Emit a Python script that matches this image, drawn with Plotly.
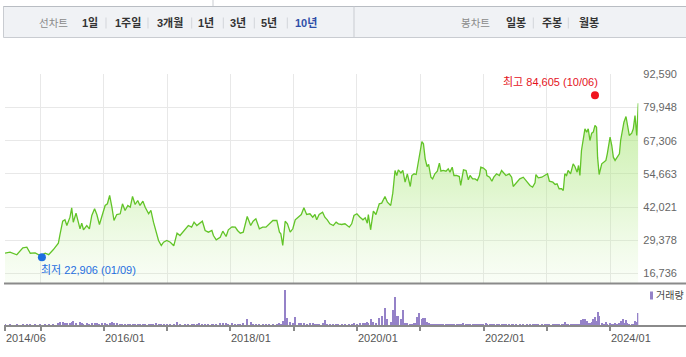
import plotly.graph_objects as go

# ---------------- data ----------------
dates = [
    "2014-06-10", "2014-07-09", "2014-08-17", "2014-09-21", "2014-10-14", "2014-11-03", "2014-12-01", "2014-12-30",
    "2015-01-28", "2015-02-17", "2015-03-15", "2015-04-14", "2015-04-23", "2015-05-09", "2015-05-22", "2015-06-02",
    "2015-06-20", "2015-06-30", "2015-07-09", "2015-07-25", "2015-08-17", "2015-08-27", "2015-09-06", "2015-09-25",
    "2015-10-10", "2015-10-24", "2015-11-09", "2015-11-22", "2015-12-07", "2015-12-21",
    "2016-01-09", "2016-01-22", "2016-02-04", "2016-02-17", "2016-02-29", "2016-03-16", "2016-04-05", "2016-04-18",
    "2016-05-03", "2016-05-19", "2016-06-02", "2016-06-15", "2016-06-30", "2016-07-15", "2016-07-28", "2016-08-14",
    "2016-08-27", "2016-09-16", "2016-09-29", "2016-10-14", "2016-10-30", "2016-11-12", "2016-11-28", "2016-12-11",
    "2016-12-30",
    "2017-01-19", "2017-02-08", "2017-02-27", "2017-03-16", "2017-04-14", "2017-05-03", "2017-05-22", "2017-06-05",
    "2017-06-21", "2017-07-06", "2017-07-23", "2017-08-08", "2017-08-27", "2017-09-16", "2017-09-25", "2017-10-11",
    "2017-11-03", "2017-11-18", "2017-12-07", "2017-12-20",
    "2018-01-10", "2018-01-29", "2018-02-11", "2018-02-27", "2018-03-16", "2018-04-08", "2018-04-28", "2018-05-12",
    "2018-05-28", "2018-06-17", "2018-07-06", "2018-07-25", "2018-08-14", "2018-09-03", "2018-09-26", "2018-10-11",
    "2018-10-19", "2018-10-30", "2018-11-13", "2018-11-26", "2018-12-12", "2018-12-27",
    "2019-01-10", "2019-01-29", "2019-02-14", "2019-03-01", "2019-03-17", "2019-04-05", "2019-04-21", "2019-05-04",
    "2019-05-14", "2019-05-28", "2019-06-17", "2019-06-30", "2019-07-14", "2019-07-29", "2019-08-18", "2019-09-03",
    "2019-09-16", "2019-10-05", "2019-10-24", "2019-11-18", "2019-12-02", "2019-12-15",
    "2020-01-01", "2020-01-19", "2020-02-05", "2020-02-18", "2020-03-01", "2020-03-07", "2020-03-20", "2020-04-05",
    "2020-04-20", "2020-05-09", "2020-05-23", "2020-06-11", "2020-06-25", "2020-07-14", "2020-07-26", "2020-08-08",
    "2020-08-18", "2020-08-27", "2020-09-11", "2020-09-22", "2020-10-05", "2020-10-18", "2020-11-04", "2020-11-13",
    "2020-11-26", "2020-12-08", "2020-12-15", "2020-12-27",
    "2021-01-10", "2021-01-19", "2021-01-29", "2021-02-09", "2021-02-18", "2021-03-03", "2021-03-13", "2021-03-26",
    "2021-04-09", "2021-04-21", "2021-04-30", "2021-05-13", "2021-05-29", "2021-06-11", "2021-06-21", "2021-07-04",
    "2021-07-14", "2021-07-29", "2021-08-14", "2021-08-22", "2021-09-07", "2021-09-22", "2021-10-05", "2021-10-15",
    "2021-10-30", "2021-11-13", "2021-11-26", "2021-12-08", "2021-12-16", "2021-12-31",
    "2022-01-16", "2022-01-20", "2022-02-05", "2022-02-18", "2022-03-01", "2022-03-17", "2022-04-02", "2022-04-15",
    "2022-04-28", "2022-05-10", "2022-05-29", "2022-06-12", "2022-06-21", "2022-07-10", "2022-07-29", "2022-08-18",
    "2022-09-07", "2022-09-26", "2022-10-11", "2022-10-25", "2022-10-30", "2022-11-13", "2022-12-03", "2022-12-21",
    "2023-01-05", "2023-01-16", "2023-02-05", "2023-02-18", "2023-03-01", "2023-03-13", "2023-03-27", "2023-04-06",
    "2023-04-15", "2023-04-25", "2023-05-04", "2023-05-18", "2023-06-02", "2023-06-12", "2023-06-25", "2023-07-03",
    "2023-07-11", "2023-07-20", "2023-07-29", "2023-08-09", "2023-08-19", "2023-08-28", "2023-09-07", "2023-09-17",
    "2023-09-26", "2023-10-06", "2023-10-15", "2023-10-21", "2023-10-30", "2023-11-14", "2023-11-27", "2023-12-08",
    "2023-12-16",
    "2024-01-01", "2024-01-11", "2024-01-20", "2024-01-30", "2024-02-09", "2024-02-24", "2024-03-02", "2024-03-14",
    "2024-03-21", "2024-04-02", "2024-04-10", "2024-04-21", "2024-05-05", "2024-05-14", "2024-05-24", "2024-06-03",
    "2024-06-12",
]

close = [
    24470, 24850, 23860, 26520, 26750, 24460, 24600, 23590,
    24460, 23900, 25760, 28270, 31470, 36650, 37180, 35010,
    38170, 41750, 36270, 39700, 33760, 35900, 33380, 35010,
    33760, 38820, 41370, 39200, 35400, 38170,
    42630, 43280, 46440, 41980, 36920, 39200, 39470, 43280,
    40730, 42630, 41980, 46060, 43010, 44540, 42630, 44270,
    41980, 39470, 40730, 36270, 31850, 29300, 27400, 28650,
    29300,
    28650, 27280, 32080, 31210, 33760, 35010, 34370, 36270,
    35010, 35900, 36650, 33110, 32470, 33110, 31210, 29570,
    30560, 32840, 30830, 33380,
    34500, 34370, 33110, 32080, 32470, 38440, 35010, 36650,
    37570, 33760, 34370, 34370, 35660, 36920, 36920, 32470,
    31850, 27400, 36650, 35660, 32470, 33760,
    37180, 38170, 39200, 41750, 39200, 39470, 38170, 39200,
    37180, 39200, 40080, 38170, 37180, 35660, 35010, 36270,
    35660, 35400, 35660, 34370, 35660, 38820,
    39470, 38170, 37180, 37950, 35900, 39200, 33380, 40460,
    39200, 43280, 43540, 46060, 43900, 42630, 47320, 55960,
    54050, 56220, 55000, 55960, 51500, 54700, 49870, 54050,
    54700, 54430, 57210, 61290,
    67000, 66110, 60400, 57480, 58270, 53400, 52770, 54700,
    55700, 58740, 55700, 55960, 55700, 56600, 55330, 57210,
    54050, 54050, 53660, 50250, 56220, 55960, 52420, 54050,
    52770, 52770, 52140, 54050, 57210, 56900,
    55960, 54050, 53400, 51880, 53400, 54700, 54050, 55960,
    55000, 54050, 54700, 53400, 49870, 51500, 52770, 53400,
    51880, 50250, 49600, 51250, 54430, 53140, 53400, 54050,
    54700, 51880, 51500, 50630, 50870, 49000, 49000, 48340,
    54700, 54050, 55960, 54700, 58510, 57480, 55330, 57870,
    54050, 63580, 67380, 71840, 70560, 71840, 67380, 70180,
    70560, 73100, 72460, 61030, 54430, 58510, 59160, 59800,
    62320,
    68640, 65470, 61030, 59800, 61030, 62320, 67380, 73100,
    74350, 76520, 73100, 69290, 70180, 71840, 76900, 69290,
    81580,
]

# trading volume (unit: 10,000 shares)
volume = [
    18, 15, 20, 17, 22, 18, 16, 20,
    22, 18, 25, 35, 40, 38, 30, 35,
    32, 45, 50, 35, 40, 30, 25, 28,
    25, 30, 35, 28, 25, 30,
    28, 25, 30, 40, 35, 30, 25, 22,
    20, 25, 22, 20, 25, 18, 20, 22,
    20, 18, 22, 25, 30, 25, 22, 20,
    18,
    20, 25, 40, 22, 20, 25, 20, 22,
    18, 27, 25, 20, 22, 18, 20, 22,
    30, 35, 28, 25,
    30, 25, 22, 20, 30, 70, 40, 25,
    22, 20, 18, 20, 18, 20, 22, 30,
    25, 50, 360, 80, 45, 30,
    90, 35, 30, 33, 25, 30, 28, 25,
    22, 25, 30, 60, 25, 20, 22, 20,
    18, 20, 22, 20, 25, 30,
    25, 30, 35, 30, 40, 35, 67, 40,
    30, 80, 100, 180, 70, 40, 160, 290,
    100, 100, 70, 157, 30, 30, 25, 25,
    27, 30, 93, 130,
    67, 80, 80, 40, 27, 25, 22, 20,
    22, 20, 18, 20, 18, 17, 18, 20,
    17, 15, 18, 20, 27, 18, 17, 15,
    16, 15, 17, 15, 18, 20,
    27, 18, 15, 16, 15, 14, 15, 13,
    14, 15, 13, 14, 15, 13, 14, 13,
    12, 14, 13, 15, 14, 13, 14, 13,
    15, 14, 13, 15, 14, 15, 17, 18,
    40, 20, 18, 17, 20, 18, 17, 18,
    20, 60, 70, 70, 50, 33, 30, 40,
    67, 93, 50, 140, 100, 33, 25, 40,
    25,
    27, 20, 22, 27, 20, 33, 50, 70,
    30, 60, 27, 20, 17, 25, 50, 40,
    130,
]

y_tick_vals = [16736, 29378, 42021, 54663, 67306, 79948, 92590]
y_tick_text = ["16,736", "29,378", "42,021", "54,663", "67,306", "79,948", "92,590"]
x_label_dates = ["2014-06-10", "2016-01-01", "2018-01-01", "2020-01-01", "2022-01-01", "2024-01-01"]
x_label_text = ["2014/06", "2016/01", "2018/01", "2020/01", "2022/01", "2024/01"]
grid_dates = ["2014-06-10", "2015-01-01", "2016-01-01", "2017-01-01", "2018-01-01", "2019-01-01",
              "2020-01-01", "2021-01-01", "2022-01-01", "2023-01-01", "2024-01-01"]
x_range = ["2014-06-10", "2024-06-12"]
y_range = [12924, 92590]
high_date, high_value, high_label = "2023-10-06", 84605, "최고 84,605 (10/06)"
low_date, low_value, low_label = "2015-01-09", 22906, "최저 22,906 (01/09)"
line_tab_title = "선차트"
line_tabs = ["1일", "1주일", "3개월", "1년", "3년", "5년", "10년"]
candle_tab_title = "봉차트"
candle_tabs = ["일봉", "주봉", "월봉"]
volume_label = "거래량"

# ---------------- layout helpers ----------------
W, H = 686, 357
FONT = "Liberation Sans, Arial, Noto Sans CJK KR, sans-serif"


def px(x):
    return x / W


def py(y):
    return 1 - y / H


fig = go.Figure()

fig.add_trace(go.Scatter(
    x=dates, y=close, mode="lines",
    line=dict(color="#62c428", width=1.3),
    fill="tozeroy",
    fillgradient=dict(type="vertical", start=y_range[0], stop=86000,
                      colorscale=[[0, "rgba(200,240,170,0.10)"],
                                  [0.5, "rgba(175,232,130,0.40)"],
                                  [1, "rgba(160,226,105,0.62)"]]),
    xaxis="x", yaxis="y", hoverinfo="skip", showlegend=False,
))

fig.add_trace(go.Bar(
    x=dates, y=volume, marker=dict(color="#9582c8", line_width=0),
    width=6 * 86400000, xaxis="x2", yaxis="y2", hoverinfo="skip", showlegend=False,
))

fig.add_trace(go.Scatter(
    x=[high_date], y=[high_value], mode="markers",
    marker=dict(color="#f0141e", size=8), xaxis="x", yaxis="y",
    hoverinfo="skip", showlegend=False, cliponaxis=False,
))
fig.add_trace(go.Scatter(
    x=[low_date], y=[low_value], mode="markers",
    marker=dict(color="#1f6ee0", size=8), xaxis="x", yaxis="y",
    hoverinfo="skip", showlegend=False, cliponaxis=False,
))

dom_x = [px(5), px(638.3)]

annotations = []
# x-axis labels (left aligned at tick)
for d, t in zip(x_label_dates, x_label_text):
    annotations.append(dict(x=d, xref="x2", y=py(338), yref="paper", text=t,
                            xanchor="left", yanchor="middle", showarrow=False, xshift=-1,
                            font=dict(size=11, color="#555555", family=FONT)))
# high / low labels
annotations.append(dict(x=high_date, y=high_value, xref="x", yref="y", text=high_label,
                        xanchor="right", yanchor="middle", xshift=5, yshift=13, showarrow=False,
                        font=dict(size=11, color="#e4121c", family=FONT)))
annotations.append(dict(x=low_date, y=low_value, xref="x", yref="y", text=low_label,
                        xanchor="left", yanchor="middle", xshift=-3, yshift=-13, showarrow=False,
                        font=dict(size=11, color="#1f6ee0", family=FONT)))
# volume legend
annotations.append(dict(x=px(654), y=py(295.5), xref="paper", yref="paper", text=volume_label,
                        xanchor="left", yanchor="middle", showarrow=False,
                        font=dict(size=10, color="#444444", family=FONT)))

# header tabs
HDR_Y = py(22.5)
annotations.append(dict(x=px(53.5), y=HDR_Y, xref="paper", yref="paper", text=line_tab_title,
                        showarrow=False, xanchor="center", yanchor="middle",
                        font=dict(size=10.5, color="#8a8a8a", family=FONT)))
line_tab_x = [89.5, 127.5, 170, 206, 237.5, 268.5, 305.5]
for i, (t, cx) in enumerate(zip(line_tabs, line_tab_x)):
    col = "#2f4fa8" if i == len(line_tabs) - 1 else "#333333"
    annotations.append(dict(x=px(cx), y=HDR_Y, xref="paper", yref="paper", text="<b>" + t + "</b>",
                            showarrow=False, xanchor="center", yanchor="middle",
                            font=dict(size=11, color=col, family=FONT)))
annotations.append(dict(x=px(475.5), y=HDR_Y, xref="paper", yref="paper", text=candle_tab_title,
                        showarrow=False, xanchor="center", yanchor="middle",
                        font=dict(size=10.5, color="#8a8a8a", family=FONT)))
candle_tab_x = [515.5, 552, 588.5]
for t, cx in zip(candle_tabs, candle_tab_x):
    annotations.append(dict(x=px(cx), y=HDR_Y, xref="paper", yref="paper", text="<b>" + t + "</b>",
                            showarrow=False, xanchor="center", yanchor="middle",
                            font=dict(size=11, color="#333333", family=FONT)))

shapes = []
# header bar
shapes.append(dict(type="rect", xref="paper", yref="paper", x0=px(3.5), x1=px(700), y0=py(37.5), y1=py(6.5),
                   fillcolor="#f0f2f5", line=dict(color="#c9ccd1", width=1), layer="below"))
shapes.append(dict(type="line", xref="paper", yref="paper", x0=px(3.5), x1=px(700), y0=py(6.5), y1=py(6.5),
                   line=dict(color="#b9bdc3", width=1)))
shapes.append(dict(type="line", xref="paper", yref="paper", x0=px(354), x1=px(354), y0=py(37.5), y1=py(6.5),
                   line=dict(color="#c9ccd1", width=1)))
shapes.append(dict(type="line", xref="paper", yref="paper", x0=px(213), x1=px(213), y0=py(6), y1=py(0),
                   line=dict(color="#c9ccd1", width=1)))
for sx in [106, 148, 191.7, 223.3, 254.3, 287.3, 533.3, 568.3]:
    shapes.append(dict(type="line", xref="paper", yref="paper", x0=px(sx), x1=px(sx), y0=py(28.5), y1=py(17.5),
                       line=dict(color="#d3d5da", width=1)))
# main chart bottom line and volume baseline
shapes.append(dict(type="line", xref="paper", yref="paper", x0=px(4), x1=px(686), y0=py(283.5), y1=py(283.5),
                   line=dict(color="#8a8a8a", width=2)))
shapes.append(dict(type="line", xref="paper", yref="paper", x0=px(4), x1=px(686), y0=py(326), y1=py(326),
                   line=dict(color="#8a8a8a", width=2)))
# volume legend swatch
shapes.append(dict(type="rect", xref="paper", yref="paper", x0=px(650), x1=px(653), y0=py(299.5), y1=py(291.5),
                   fillcolor="#9582c8", line=dict(width=0)))

fig.update_layout(
    width=W, height=H, margin=dict(l=0, r=0, t=0, b=0),
    paper_bgcolor="white", plot_bgcolor="rgba(0,0,0,0)",
    font=dict(family=FONT, size=11, color="#555555"),
    showlegend=False, hovermode=False, bargap=0,
    xaxis=dict(domain=dom_x, type="date", range=x_range, anchor="y",
               tickvals=grid_dates, showticklabels=False, ticks="",
               showgrid=True, gridcolor="#e8e8e8", gridwidth=1,
               zeroline=False, showline=False, fixedrange=True),
    yaxis=dict(domain=[py(283.5), py(74.3)], range=y_range, side="right", anchor="x",
               tickvals=y_tick_vals, ticktext=y_tick_text, ticks="", ticklabelstandoff=4,
               tickfont=dict(size=11, color="#666666", family=FONT),
               showgrid=True, gridcolor="#e8e8e8", gridwidth=1,
               zeroline=False, showline=False, fixedrange=True, automargin=False),
    xaxis2=dict(domain=dom_x, type="date", range=x_range, anchor="y2",
                tickvals=grid_dates, showticklabels=False, ticks="outside", ticklen=4,
                tickcolor="#8a8a8a", tickwidth=1.5, showgrid=False, zeroline=False,
                showline=False, fixedrange=True, automargin=False),
    yaxis2=dict(domain=[py(326), py(286)], range=[0, 400], visible=False, fixedrange=True),
    annotations=annotations, shapes=shapes,
)

fig.write_html(
    "out.html",
    config={"responsive": False, "displayModeBar": False},
    post_script="document.body.style.margin='0';document.body.style.padding='0';"
                "document.documentElement.style.overflow='hidden';",
)
